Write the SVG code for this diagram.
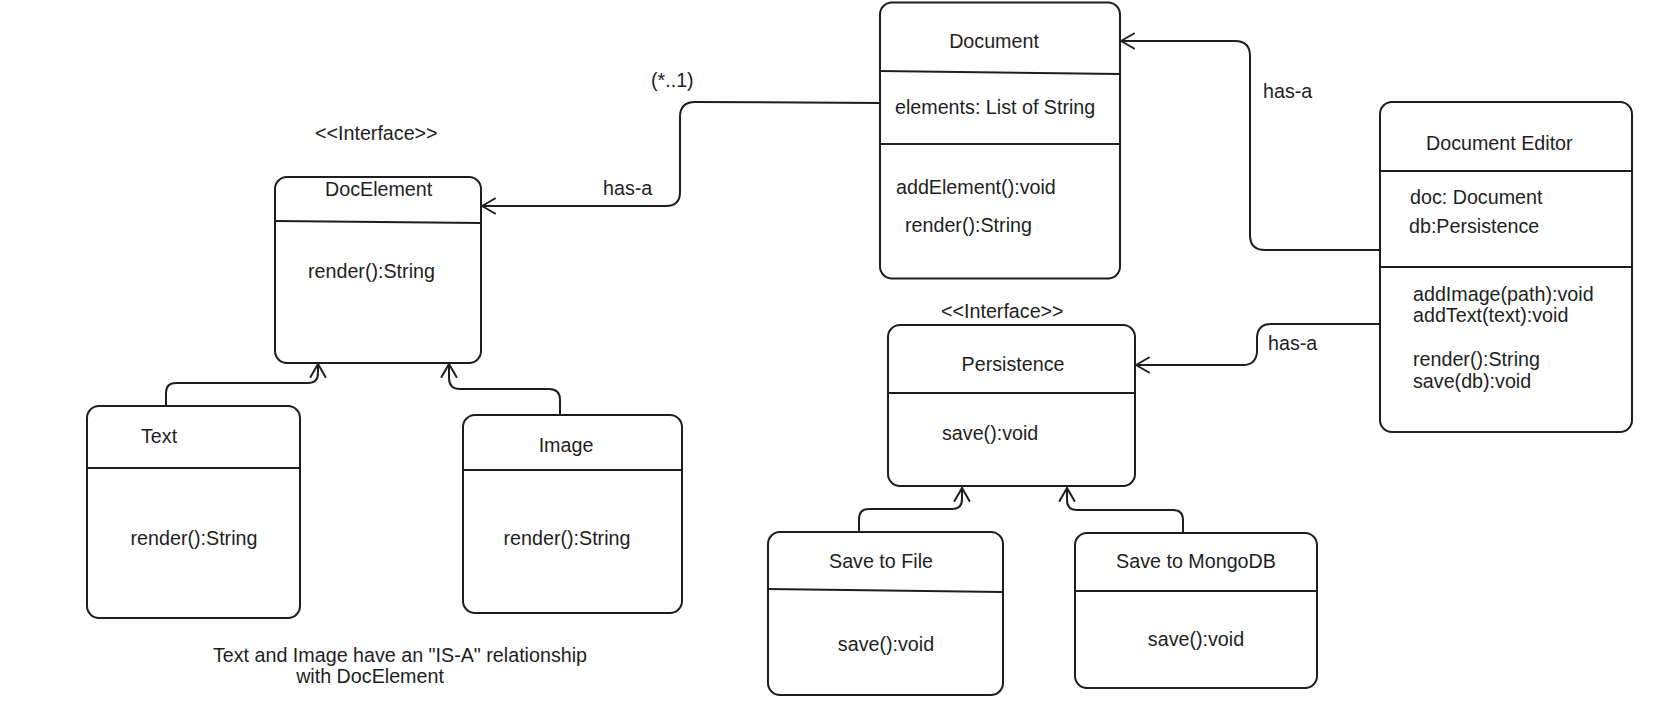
<svg xmlns="http://www.w3.org/2000/svg" width="1667" height="725" viewBox="0 0 1667 725">
<style>
.box{fill:#ffffff;stroke:#1e1e1e;stroke-width:2}
.div{stroke:#1e1e1e;stroke-width:2;fill:none}
.con{fill:none;stroke:#1e1e1e;stroke-width:2;stroke-linecap:round;stroke-linejoin:round}
text{font-family:"Liberation Sans",Arial,Helvetica,sans-serif;font-size:19.7px;fill:#1e1e1e}
.c{text-anchor:middle}
</style>
<defs>
<marker id="arr" viewBox="-16 -10 20 20" refX="0" refY="0" markerWidth="20" markerHeight="20" markerUnits="userSpaceOnUse" orient="auto">
<path d="M-13,-7.5 L0,0 L-13,7.5" fill="none" stroke="#1e1e1e" stroke-width="2" stroke-linecap="round" stroke-linejoin="round"/>
</marker>
</defs>
<rect x="0" y="0" width="1667" height="725" fill="#ffffff"/>

<g id="connectors">
<path class="con" d="M880,103 L695,102 Q680,102 680,117 L680,192 Q680,206 666,206 L482,206" marker-end="url(#arr)"/>
<path class="con" d="M1380,250 L1265,250 Q1250,250 1250,235 L1250,56 Q1250,41 1235,41 L1121,41" marker-end="url(#arr)"/>
<path class="con" d="M1380,324 L1271,324 Q1258,324 1257,337 L1257,352 Q1256,365 1243,365 L1136,365" marker-end="url(#arr)"/>
<path class="con" d="M166,406 L166,393 Q166,383 176,383 L308,383 Q318,383 318,373 L318,364" marker-end="url(#arr)"/>
<path class="con" d="M560,415 L560,400 Q560,389 549,389 L460,389 Q449,389 449,378 L449,364" marker-end="url(#arr)"/>
<path class="con" d="M859,532 L859,519 Q859,509 869,509 L952,509 Q962,509 962,499 L962,488" marker-end="url(#arr)"/>
<path class="con" d="M1183,533 L1183,520 Q1183,510 1173,510 L1077,510 Q1067,510 1067,500 L1067,488" marker-end="url(#arr)"/>
<text x="651" y="87">(*..1)</text>
<text x="603" y="195">has-a</text>
<text x="1263" y="98">has-a</text>
<text x="1268" y="350">has-a</text>
</g>

<g id="docelement">
<text x="315" y="140">&lt;&lt;Interface&gt;&gt;</text>
<rect class="box" x="275" y="177" width="206" height="186" rx="12"/>
<path class="div" d="M276,221 L481,223"/>
<text x="325" y="196">DocElement</text>
<text x="308" y="278">render():String</text>
</g>

<g id="document">
<rect class="box" x="880" y="2.5" width="240" height="276" rx="12"/>
<path class="div" d="M880,71 L1120,74"/>
<path class="div" d="M880,144 L1120,144"/>
<text class="c" x="994" y="48">Document</text>
<text x="895" y="114">elements: List of String</text>
<text x="896" y="194">addElement():void</text>
<text x="905" y="232">render():String</text>
</g>

<g id="document-editor">
<rect class="box" x="1380" y="102" width="252" height="330" rx="12"/>
<path class="div" d="M1380,171 L1632,171"/>
<path class="div" d="M1380,267 L1632,267"/>
<text x="1426" y="150">Document Editor</text>
<text x="1410" y="204">doc: Document</text>
<text x="1409" y="233">db:Persistence</text>
<text x="1413" y="301">addImage(path):void</text>
<text x="1413" y="322">addText(text):void</text>
<text x="1413" y="366">render():String</text>
<text x="1413" y="388">save(db):void</text>
</g>

<g id="persistence">
<text x="941" y="318">&lt;&lt;Interface&gt;&gt;</text>
<rect class="box" x="888" y="325" width="247" height="161" rx="12"/>
<path class="div" d="M889,393 L1135,393"/>
<text class="c" x="1013" y="371">Persistence</text>
<text x="942" y="440">save():void</text>
</g>

<g id="text-class">
<rect class="box" x="87" y="406" width="213" height="212" rx="12"/>
<path class="div" d="M87,468 L300,468"/>
<text x="141" y="443">Text</text>
<text class="c" x="194" y="545">render():String</text>
</g>

<g id="image-class">
<rect class="box" x="463" y="415" width="219" height="198" rx="12"/>
<path class="div" d="M463,470 L682,470"/>
<text class="c" x="566" y="452">Image</text>
<text class="c" x="567" y="545">render():String</text>
</g>

<g id="save-to-file">
<rect class="box" x="768" y="532" width="235" height="163" rx="12"/>
<path class="div" d="M768,589 L1003,592"/>
<text class="c" x="881" y="568">Save to File</text>
<text class="c" x="886" y="651">save():void</text>
</g>

<g id="save-to-mongodb">
<rect class="box" x="1075" y="533" width="242" height="155" rx="12"/>
<path class="div" d="M1075,591 L1317,591"/>
<text class="c" x="1196" y="568">Save to MongoDB</text>
<text class="c" x="1196" y="646">save():void</text>
</g>

<g id="caption">
<text class="c" x="400" y="662">Text and Image have an "IS-A" relationship</text>
<text class="c" x="370" y="683">with DocElement</text>
</g>
</svg>
